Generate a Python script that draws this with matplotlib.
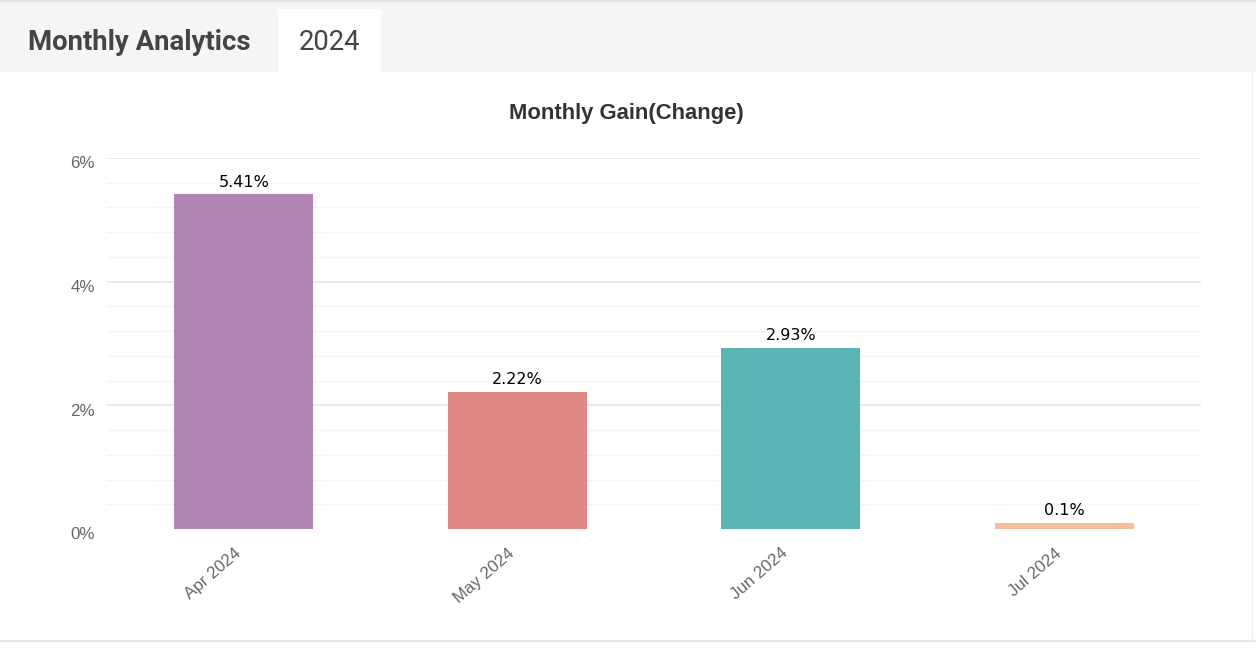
import matplotlib
matplotlib.use("Agg")
import matplotlib.pyplot as plt
from matplotlib.patches import Rectangle
from matplotlib.ticker import MultipleLocator, FuncFormatter
from matplotlib.lines import Line2D
from matplotlib.transforms import ScaledTranslation

# Chart data
months = ["Apr 2024", "May 2024", "Jun 2024", "Jul 2024"]
gains = [5.41, 2.22, 2.93, 0.1]
labels = ["5.41%", "2.22%", "2.93%", "0.1%"]
colors = ["#b385b3", "#e08886", "#5ab4b4", "#f6bf9c"]
y_ticks = [0, 2, 4, 6]

W, H = 1256, 650
fig = plt.figure(figsize=(W / 100, H / 100), dpi=100)
fig.patch.set_facecolor("white")

# Header band with tab
fig.patches.append(Rectangle((0, 1 - 72 / H), 1, 72 / H, transform=fig.transFigure,
                             facecolor="#f5f5f5", edgecolor="none", zorder=0))
fig.patches.append(Rectangle((278 / W, 1 - 72 / H), 103 / W, 63 / H, transform=fig.transFigure,
                             facecolor="white", edgecolor="none", zorder=1))
fig.lines.append(Line2D([0, 1], [1 - 1 / H, 1 - 1 / H], transform=fig.transFigure,
                        color="#e2e2e2", lw=1.5))
fig.lines.append(Line2D([0, 1], [1 - 641 / H, 1 - 641 / H], transform=fig.transFigure,
                        color="#e4e4e4", lw=1.5))
fig.lines.append(Line2D([1252 / W, 1252 / W], [1 - 641 / H, 1 - 72 / H], transform=fig.transFigure,
                        color="#f0f0f0", lw=1))
fig.text(28 / W, 1 - 42 / H, "Monthly Analytics", family="Roboto", weight="bold",
         fontsize=19.8, color="#444444", va="center", ha="left")
fig.text(330 / W, 1 - 42 / H, "2024", family="Roboto", fontsize=19.8,
         color="#444444", va="center", ha="center")
fig.text(626 / W, 1 - 114 / H, "Monthly Gain(Change)", family="Liberation Sans",
         weight="bold", fontsize=15.8, color="#333333", va="center", ha="center")

# Plot area: 0% at y=529px, 6% at y=158px
ax = fig.add_axes([107 / W, 1 - 529 / H, 1094 / W, 371 / H])
ax.set_facecolor("none")
x = range(len(months))
ax.bar(x, gains, width=0.51, color=colors, zorder=3)
for xi, g, lab in zip(x, gains, labels):
    ax.annotate(lab, (xi, g), xytext=(0, 3.5), textcoords="offset points",
                ha="center", va="bottom", fontsize=11.5, color="black",
                family="DejaVu Sans")

ax.set_xlim(-0.5, len(months) - 0.5)
ax.set_ylim(0, 6)
ax.set_yticks(y_ticks)
ax.yaxis.set_minor_locator(MultipleLocator(0.4))
ax.yaxis.set_major_formatter(FuncFormatter(lambda v, p: f"{v:g}%"))
ax.grid(axis="y", which="major", color="#e6e6e6", lw=1.2, zorder=0)
ax.grid(axis="y", which="minor", color="#f4f4f4", lw=1.0, zorder=0)
ax.yaxis.get_gridlines()[0].set_visible(False)
ax.set_xticks(list(x))
ax.set_xticklabels(months, rotation=41, ha="right", rotation_mode="anchor")
for spine in ax.spines.values():
    spine.set_visible(False)
ax.tick_params(axis="both", which="both", length=0, labelcolor="#666666",
               labelsize=12.2)
ax.tick_params(axis="y", pad=8.6)
ax.tick_params(axis="x", pad=12)
shift_x = ScaledTranslation(-7 / 72, 0, fig.dpi_scale_trans)
shift_y = ScaledTranslation(0, -3 / 72, fig.dpi_scale_trans)
for t in ax.get_xticklabels():
    t.set_family("Liberation Sans")
    t.set_transform(t.get_transform() + shift_x)
for t in ax.get_yticklabels():
    t.set_family("Liberation Sans")
    t.set_transform(t.get_transform() + shift_y)

plt.savefig("out.png", dpi=100)
plt.close()
